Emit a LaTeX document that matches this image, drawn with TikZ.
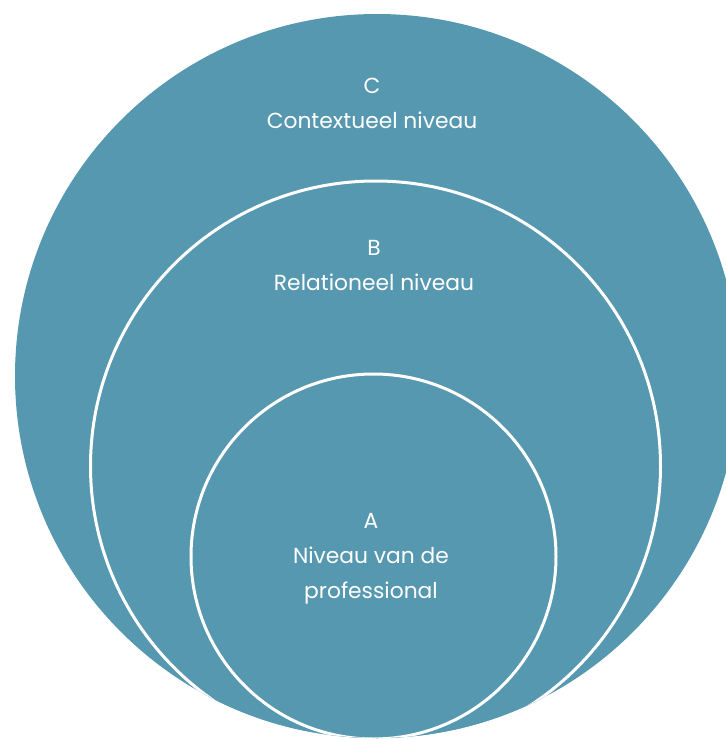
\documentclass[tikz,border=0pt]{standalone}
\usepackage{fontspec}
\setmainfont{Poppins}
\usepackage{xcolor}
\definecolor{colorLevel}{RGB}{86,152,176}
\usetikzlibrary{positioning}
\tikzset{
  level/.style={fill=colorLevel, draw=white, line width=1.5pt},
  leveltext/.style={text=white, align=center, font=\fontsize{10.9}{17.5}\selectfont}
}

\begin{document}
\begin{tikzpicture}[x=0.5pt, y=-0.5pt]
\useasboundingbox (0,0) rectangle (726,740);
% outer level C
\fill[colorLevel] (377,376) circle (362);
\begin{scope}
\clip (377,376) circle (362);
% level B and level A
\draw[level] (375.5,466) circle (285);
\draw[level] (373.5,556.5) circle (182.5);
\end{scope}
\node[leveltext] (levelC) at (372,103) {C\\Contextueel niveau};
\node[leveltext] (levelB) at (374,265) {B\\Relationeel niveau};
\node[leveltext] (levelA) at (371,559) {A\\Niveau van de\\professional};
\end{tikzpicture}
\end{document}
